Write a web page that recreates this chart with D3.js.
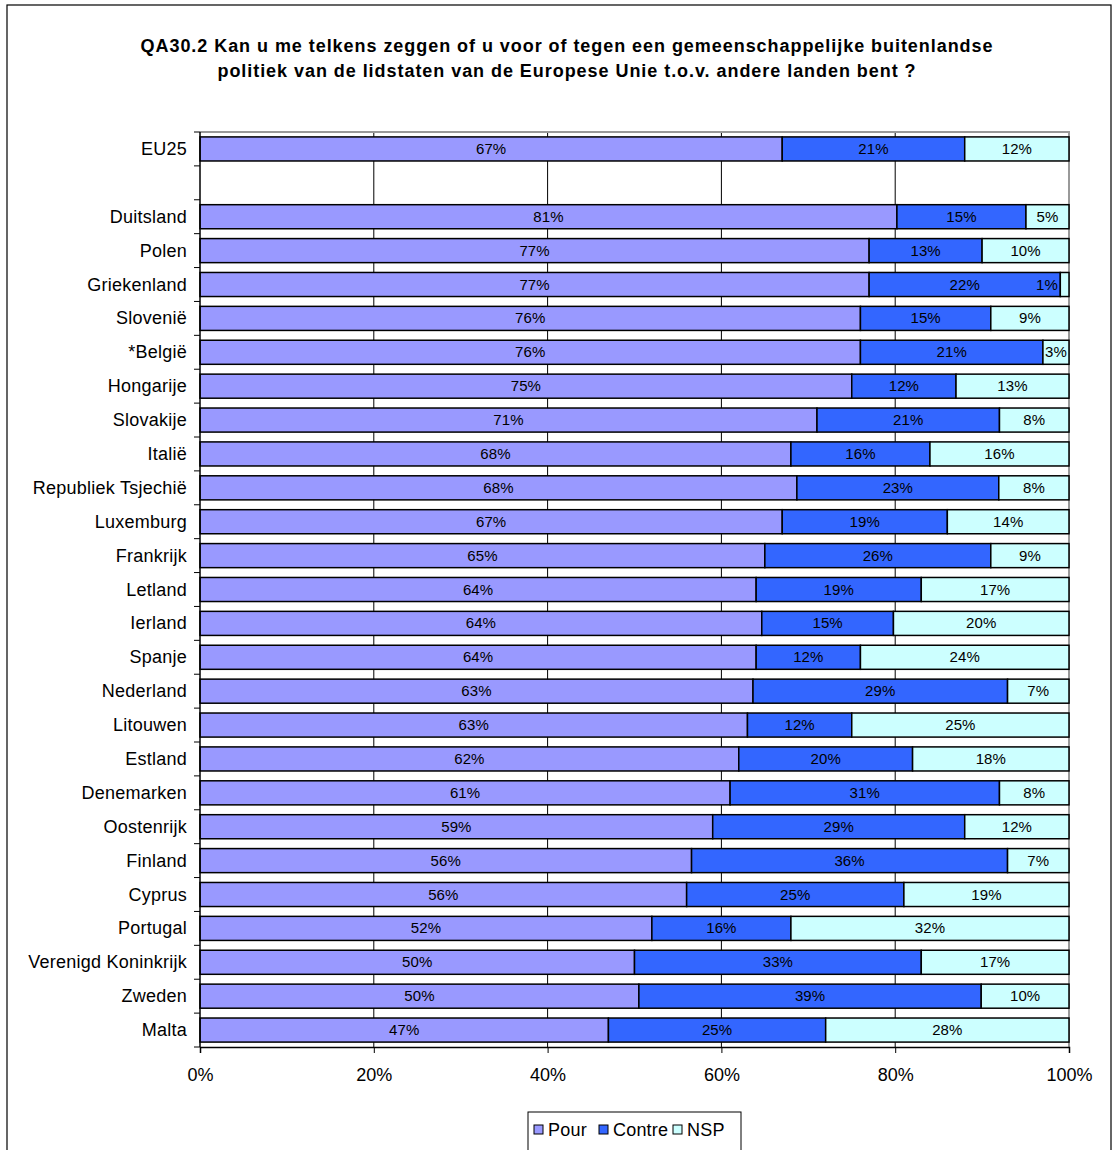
<!DOCTYPE html>
<html><head><meta charset="utf-8">
<script src="https://cdn.jsdelivr.net/npm/d3@7"></script>
<style>body{margin:0;background:#fff}svg{display:block}text{font-family:"Liberation Sans",Arial,sans-serif}</style>
</head><body><div id="chart"></div>
<script>
const categories = ["EU25","","Duitsland","Polen","Griekenland","Slovenië","*België","Hongarije","Slovakije","Italië","Republiek Tsjechië","Luxemburg","Frankrijk","Letland","Ierland","Spanje","Nederland","Litouwen","Estland","Denemarken","Oostenrijk","Finland","Cyprus","Portugal","Verenigd Koninkrijk","Zweden","Malta"];
const pour   = [67,null,81,77,77,76,76,75,71,68,68,67,65,64,64,64,63,63,62,61,59,56,56,52,50,50,47];
const contre = [21,null,15,13,22,15,21,12,21,16,23,19,26,19,15,12,29,12,20,31,29,36,25,16,33,39,25];
const nsp    = [12,null,5,10,1,9,3,13,8,16,8,14,9,17,20,24,7,25,18,8,12,7,19,32,17,10,28];
const seriesNames = ["Pour","Contre","NSP"];
const seriesColors = ["#9999FF","#3366FF","#CCFFFF"];
const xTicks = [0,20,40,60,80,100];
const title = ["QA30.2 Kan u me telkens zeggen of u voor of tegen een gemeenschappelijke buitenlandse","politiek van de lidstaten van de Europese Unie t.o.v. andere landen bent ?"];

const W = 1114, H = 1150;
const svg = d3.select("#chart").append("svg").attr("width", W).attr("height", H);
svg.append("rect").attr("x",7).attr("y",5).attr("width",1104).attr("height",1160).attr("fill","#fff").attr("stroke","#000").attr("stroke-width",1.2);

const m = {left:200, right:1069, top:132, bottom:1047};
const x = d3.scaleLinear().domain([0,100]).range([m.left, m.right]);
const y = d3.scaleBand().domain(categories.map((c,i)=>i)).range([m.top, m.bottom]).paddingInner(0.29).paddingOuter(0.145);

// title
title.forEach((t,i)=>{
  svg.append("text").attr("x",567).attr("y",52+i*25).attr("text-anchor","middle").attr("font-weight","bold")
    .attr("font-size",18).attr("letter-spacing",0.95).attr("word-spacing",0).text(t);
});

// gridlines
svg.append("g").selectAll("line").data(xTicks.slice(1,-1)).join("line")
  .attr("x1",d=>x(d)).attr("x2",d=>x(d)).attr("y1",m.top).attr("y2",m.bottom).attr("stroke","#000").attr("stroke-width",1);
// top & right border grey
svg.append("path").attr("d",`M${m.left},${m.top}H${m.right}V${m.bottom}`).attr("fill","none").attr("stroke","#999").attr("stroke-width",2);

// stacked data normalized to 100%
const rows = categories.map((c,i)=>{
  if (pour[i]==null) return null;
  const vals=[pour[i],contre[i],nsp[i]];
  const tot=d3.sum(vals);
  let acc=0;
  return vals.map((v,k)=>{const s=acc/tot*100; acc+=v; return {i,k,v,x0:s,x1:acc/tot*100};});
}).filter(d=>d);

const segs = rows.flat();
svg.append("g").selectAll("rect").data(segs).join("rect")
  .attr("x",d=>x(d.x0)).attr("width",d=>x(d.x1)-x(d.x0))
  .attr("y",d=>y(d.i)).attr("height",y.bandwidth())
  .attr("fill",d=>seriesColors[d.k]).attr("stroke","#000").attr("stroke-width",1.5);

svg.append("g").selectAll("text").data(segs).join("text")
  .attr("x",d=>{const c=(x(d.x0)+x(d.x1))/2; return c+12 > x(100) ? x(100)-22 : c;})
  .attr("y",d=>y(d.i)+y.bandwidth()/2+5)
  .attr("text-anchor","middle").attr("font-size",15).attr("letter-spacing",0.1).attr("fill","#000")
  .text(d=>d.v+"%");

// left axis
svg.append("line").attr("x1",m.left).attr("x2",m.left).attr("y1",m.top).attr("y2",m.bottom).attr("stroke","#000").attr("stroke-width",1.5);
const bounds = d3.range(categories.length+1).map(i=>m.top+i*y.step());
svg.append("g").selectAll("line").data(bounds).join("line")
  .attr("x1",m.left-6).attr("x2",m.left).attr("y1",d=>d).attr("y2",d=>d).attr("stroke","#000").attr("stroke-width",1);
svg.append("g").selectAll("text").data(categories.map((c,i)=>({c,i}))).join("text")
  .attr("x",187).attr("y",d=>y(d.i)+y.bandwidth()/2+6)
  .attr("text-anchor","end").attr("font-size",18).attr("letter-spacing",0.25).text(d=>d.c);

// bottom axis
const xa = svg.append("g").attr("transform",`translate(0,${m.bottom})`)
  .call(d3.axisBottom(x).tickValues(xTicks).tickFormat(d=>d+"%").tickSize(6).tickPadding(15));
xa.select(".domain").attr("stroke","#000").attr("stroke-width",1.5);
xa.selectAll(".tick line").attr("stroke","#000");
xa.selectAll("text").attr("font-size",18).attr("font-family","Liberation Sans, Arial, sans-serif").attr("fill","#000");

// legend
const lg = svg.append("g");
lg.append("rect").attr("x",528).attr("y",1112).attr("width",213).attr("height",42).attr("fill","#fff").attr("stroke","#000").attr("stroke-width",1);
const lx = [534,599,673];
seriesNames.forEach((n,k)=>{
  lg.append("rect").attr("x",lx[k]).attr("y",1125).attr("width",9).attr("height",9).attr("fill",seriesColors[k]).attr("stroke","#000").attr("stroke-width",1);
  lg.append("text").attr("x",lx[k]+14).attr("y",1136).attr("font-size",18).attr("letter-spacing",0.2).text(n);
});
</script></body></html>
